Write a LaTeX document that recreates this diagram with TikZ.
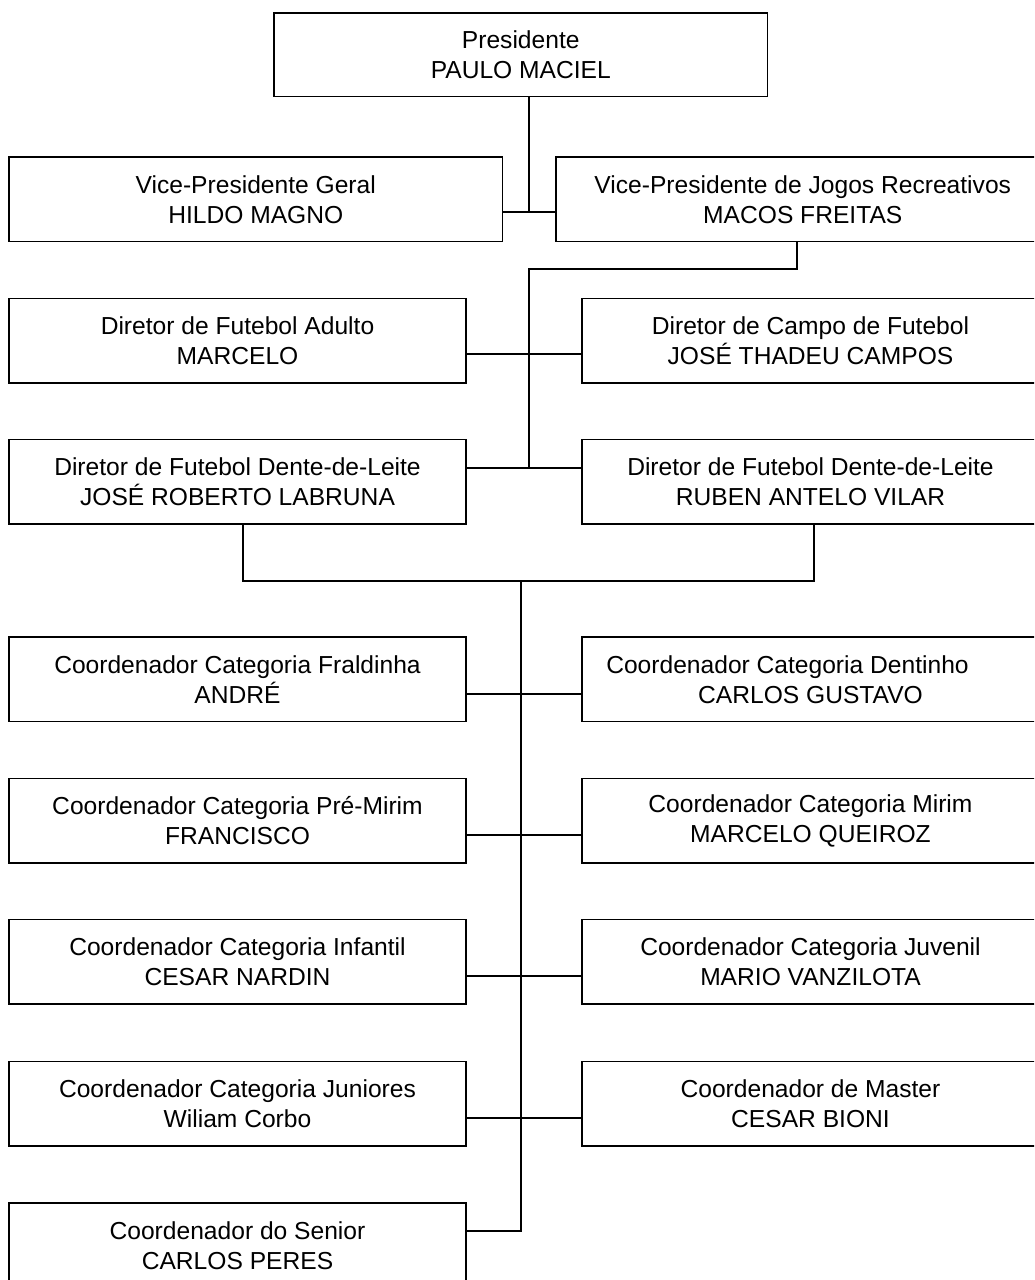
\documentclass[tikz,border=0pt]{standalone}
\usepackage{fontspec}
\setmainfont{Liberation Sans}
\begin{document}
\begin{tikzpicture}[x=1pt,y=-1pt,
  box/.style={draw=black, line width=1.9pt, rectangle, anchor=north west, inner sep=0pt, outer sep=0pt,
    align=center, font=\fontsize{24.6}{30}\selectfont, minimum height=84.5pt},
  wbox/.style={box, minimum width=493.5pt},
  nbox/.style={box, minimum width=457pt},
  link/.style={draw=black, line width=1.9pt}]
\useasboundingbox (0,0) rectangle (1034,1280);
\clip (0,0) rectangle (1034,1280);

\node[wbox, minimum height=83.5pt] (pres) at (274,13) {Presidente\\PAULO MACIEL};
\node[wbox] (vpg) at (9,157) {Vice-Presidente Geral\\HILDO MAGNO};
\node[wbox] (vpj) at (556,157) {Vice-Presidente de Jogos Recreativos\\MACOS FREITAS};

\node[nbox] (dfa) at (9,298.5) {Diretor de Futebol Adulto\\MARCELO};
\node[nbox] (dcf) at (582,298.5) {Diretor de Campo de Futebol\\JOSÉ THADEU CAMPOS};
\node[nbox] (ddl1) at (9,439.5) {Diretor de Futebol Dente-de-Leite\\JOSÉ ROBERTO LABRUNA};
\node[nbox] (ddl2) at (582,439.5) {Diretor de Futebol Dente-de-Leite\\RUBEN ANTELO VILAR};

\node[nbox] (cfr) at (9,637) {Coordenador Categoria Fraldinha\\ANDRÉ};
\node[nbox] (cde) at (582,637) {Coordenador Categoria Dentinho\rule{46pt}{0pt}\\CARLOS GUSTAVO};
\node[nbox] (cpm) at (9,778.5) {Coordenador Categoria Pré-Mirim\\FRANCISCO};
\node[nbox] (cmi) at (582,778.5) {Coordenador Categoria Mirim\\MARCELO QUEIROZ};
\node[nbox] (cin) at (9,919.5) {Coordenador Categoria Infantil\\CESAR NARDIN};
\node[nbox] (cju) at (582,919.5) {Coordenador Categoria Juvenil\\MARIO VANZILOTA};
\node[nbox] (cjr) at (9,1061.5) {Coordenador Categoria Juniores\\Wiliam Corbo};
\node[nbox] (cma) at (582,1061.5) {Coordenador de Master\\CESAR BIONI};
\node[nbox] (cse) at (9,1203) {Coordenador do Senior\\CARLOS PERES};

% president to vice-presidents
\coordinate (j1) at (529,212.3);
\draw[link] (pres.south -| j1) -- (j1);
\draw[link] (vpg.east |- j1) -- (vpj.west |- j1);

% VP Jogos to directors
\coordinate (k1) at (796.6,269.3);
\coordinate (k2) at (529,269.3);
\coordinate (k3) at (529,467.7);
\draw[link] (vpj.south -| k1) -- (k1) -- (k2) -- (k3);
\coordinate (r3) at (0,354.3);
\draw[link] (dfa.east |- r3) -- (dcf.west |- r3);
\draw[link] (ddl1.east |- k3) -- (ddl2.west |- k3);

% directors to coordinators
\coordinate (m1) at (242.7,581);
\coordinate (m2) at (814.4,581);
\coordinate (m3) at (521,581);
\coordinate (m4) at (521,1231);
\draw[link] (ddl1.south -| m1) -- (m1) -- (m2) -- (ddl2.south -| m2);
\draw[link] (m3) -- (m4) -- (cse.east |- m4);

\coordinate (r5) at (0,694);
\coordinate (r6) at (0,835);
\coordinate (r7) at (0,976);
\coordinate (r8) at (0,1117.7);
\draw[link] (cfr.east |- r5) -- (cde.west |- r5);
\draw[link] (cpm.east |- r6) -- (cmi.west |- r6);
\draw[link] (cin.east |- r7) -- (cju.west |- r7);
\draw[link] (cjr.east |- r8) -- (cma.west |- r8);
\end{tikzpicture}
\end{document}
